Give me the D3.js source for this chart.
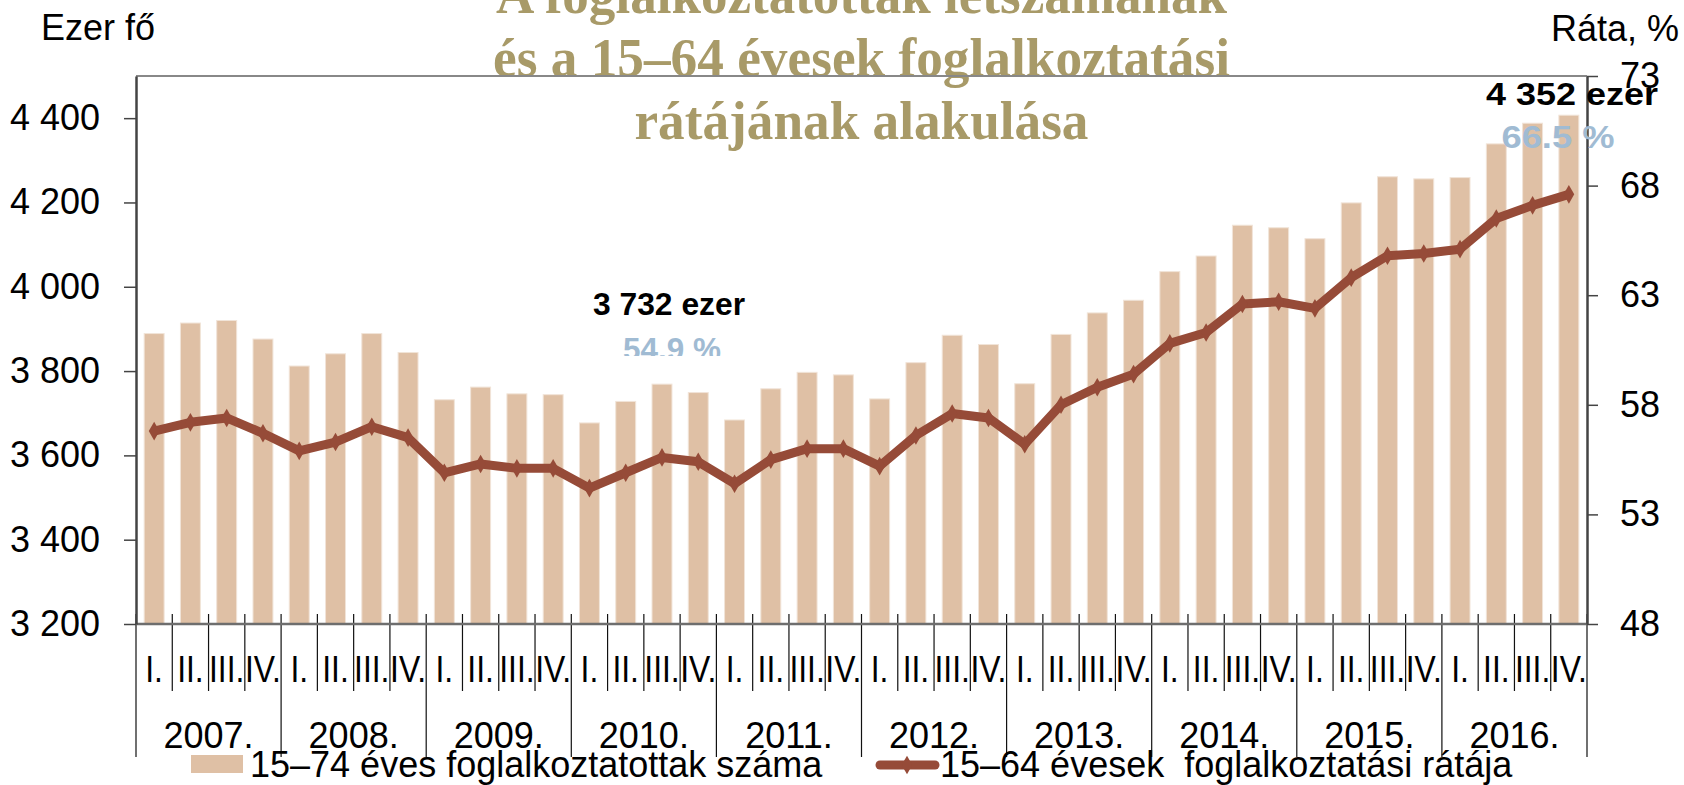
<!DOCTYPE html>
<html>
<head>
<meta charset="utf-8">
<script src="https://cdn.jsdelivr.net/npm/d3@7"></script>
<style>
    html, body { margin: 0; padding: 0; background: #fff; }
    svg { display: block; }
    text { font-family: "Liberation Sans", Arial, sans-serif; }
</style>
</head>
<body>
<div id="chart"></div>
<script>
// 40 negyedév, 2007 I. - 2016 IV.
const years = ["2007.", "2008.", "2009.", "2010.", "2011.", "2012.", "2013.", "2014.", "2015.", "2016."];
const quarters = ["I.", "II.", "III.", "IV."];

// 15–74 éves foglalkoztatottak száma, ezer fő
const employed = [
    3889, 3914, 3920, 3876,
    3812, 3841, 3889, 3844,
    3732, 3762, 3746, 3744,
    3677, 3728, 3769, 3749,
    3684, 3758, 3797, 3791,
    3734, 3820, 3885, 3863,
    3770, 3887, 3938, 3968,
    4036, 4073, 4146, 4140,
    4114, 4199, 4261, 4256,
    4259, 4339, 4388, 4407
];

// 15–64 évesek foglalkoztatási rátája, %
const rate = [
    56.8, 57.2, 57.4, 56.7,
    55.9, 56.3, 57.0, 56.5,
    54.9, 55.3, 55.1, 55.1,
    54.2, 54.9, 55.6, 55.4,
    54.4, 55.5, 56.0, 56.0,
    55.2, 56.6, 57.6, 57.4,
    56.2, 58.0, 58.8, 59.4,
    60.8, 61.3, 62.6, 62.7,
    62.4, 63.8, 64.8, 64.9,
    65.1, 66.5, 67.1, 67.6
];

const leftTicks = [3200, 3400, 3600, 3800, 4000, 4200, 4400];
const rightTicks = [48, 53, 58, 63, 68, 73];
const titleLines = ["A foglalkoztatottak létszámának", "és a 15–64 évesek foglalkoztatási", "rátájának alakulása"];
const legendLabels = ["15–74 éves foglalkoztatottak száma", "15–64 évesek  foglalkoztatási rátája"];

const width = 1684, height = 785;
const plot = { left: 136, right: 1587, top: 76, bottom: 624 };

const barColor = "#dfc0a5";
const lineColor = "#964b38";
const titleColor = "#a89a68";
const noteBlue = "#a0bbd3";

const hu = d3.formatLocale({ decimal: ",", thousands: " ", grouping: [3], currency: ["", " Ft"] });
const fmt = hu.format(",d");

const svg = d3.select("#chart").append("svg")
    .attr("width", width)
    .attr("height", height);

const idx = d3.range(employed.length);

const x = d3.scaleBand()
    .domain(idx)
    .range([plot.left, plot.right])
    .paddingInner(0.45)
    .paddingOuter(0.225);
const cx = i => x(i) + x.bandwidth() / 2;

const yL = d3.scaleLinear().domain([3200, 4500]).range([plot.bottom, plot.top]);
const yR = d3.scaleLinear().domain([48, 73]).range([plot.bottom, plot.top]);

// boundaries between quarters
const xb = d3.scaleLinear().domain([0, employed.length]).range([plot.left, plot.right]);

// title (behind the frame)
svg.append("g")
    .selectAll("text")
    .data(titleLines)
    .enter().append("text")
    .attr("x", (plot.left + plot.right) / 2)
    .attr("y", (d, i) => 13 + i * 63)
    .attr("text-anchor", "middle")
    .attr("textLength", (d, i) => [731, 737, 454][i])
    .attr("lengthAdjust", "spacingAndGlyphs")
    .style("font-family", "'Liberation Serif', 'Times New Roman', serif")
    .style("font-weight", "bold")
    .style("font-size", "54px")
    .attr("fill", titleColor)
    .text(d => d);

// bars
svg.append("g")
    .selectAll("rect")
    .data(employed)
    .enter().append("rect")
    .attr("x", (d, i) => x(i))
    .attr("y", d => yL(d))
    .attr("width", x.bandwidth())
    .attr("height", d => yL(3200) - yL(d))
    .attr("fill", barColor)
    .attr("stroke", "#f1e4d8")
    .attr("stroke-width", 1);

// frame top
svg.append("line")
    .attr("x1", plot.left).attr("x2", plot.right)
    .attr("y1", plot.top).attr("y2", plot.top)
    .attr("stroke", "#888").attr("stroke-width", 2);

// category axis: separators
svg.append("g")
    .selectAll("line")
    .data(d3.range(employed.length + 1))
    .enter().append("line")
    .attr("x1", d => xb(d)).attr("x2", d => xb(d))
    .attr("y1", plot.bottom - 10)
    .attr("y2", d => d % 4 === 0 ? 757 : 691)
    .attr("stroke", "#111")
    .attr("stroke-width", 1.2);

svg.append("line")
    .attr("x1", plot.left).attr("x2", plot.right)
    .attr("y1", plot.bottom).attr("y2", plot.bottom)
    .attr("stroke", "#6e6e6e").attr("stroke-width", 2.5);

const qLabels = svg.append("g")
    .selectAll("text")
    .data(idx)
    .enter().append("text")
    .attr("x", d => cx(d))
    .attr("y", 682)
    .attr("text-anchor", "middle")
    .style("font-size", "37px")
    .text(d => quarters[d % 4]);
qLabels.attr("textLength", function () { return this.getComputedTextLength() * 0.86; })
    .attr("lengthAdjust", "spacingAndGlyphs");

svg.append("g")
    .selectAll("text")
    .data(years)
    .enter().append("text")
    .attr("x", (d, i) => (xb(i * 4) + xb(i * 4 + 4)) / 2)
    .attr("y", 748)
    .attr("text-anchor", "middle")
    .style("font-size", "36px")
    .text(d => d);

// value axes
const gL = svg.append("g")
    .attr("transform", `translate(${plot.left},0)`)
    .call(d3.axisLeft(yL).tickValues(leftTicks).tickFormat(fmt).tickSize(12).tickSizeOuter(0).tickPadding(24));
const gR = svg.append("g")
    .attr("transform", `translate(${plot.right},0)`)
    .call(d3.axisRight(yR).tickValues(rightTicks).tickSize(11).tickSizeOuter(0).tickPadding(22));
[gL, gR].forEach(g => {
    g.select(".domain").attr("stroke", "#444").attr("stroke-width", 2.5);
    g.selectAll(".tick line").attr("stroke", "#444").attr("stroke-width", 1.5);
    g.selectAll(".tick text")
        .attr("fill", "#000")
        .style("font-family", "'Liberation Sans', Arial, sans-serif")
        .style("font-size", "36px");
});

svg.append("text")
    .attr("x", 41).attr("y", 40)
    .style("font-size", "36px")
    .text("Ezer fő");
svg.append("text")
    .attr("x", 1679).attr("y", 41)
    .attr("text-anchor", "end")
    .style("font-size", "36px")
    .text("Ráta, %");

// rate line
const line = d3.line()
    .x((d, i) => cx(i))
    .y(d => yR(d));

svg.append("path")
    .datum(rate)
    .attr("d", line)
    .attr("fill", "none")
    .attr("stroke", lineColor)
    .attr("stroke-width", 9)
    .attr("stroke-linejoin", "round");

const diamond = d3.symbol().type(d3.symbolDiamond).size(100);
svg.append("g")
    .selectAll("path")
    .data(rate)
    .enter().append("path")
    .attr("d", diamond)
    .attr("transform", (d, i) => `translate(${cx(i)},${yR(d)})`)
    .attr("fill", lineColor);

// notes
svg.append("clipPath").attr("id", "noteClip")
    .append("rect").attr("x", 0).attr("y", 0).attr("width", width).attr("height", 356);

const notes = [
    { t: "3 732 ezer", x: 669, y: 315, w: 152, c: "#000", clip: false },
    { t: "54.9 %", x: 672, y: 360, w: 98, c: noteBlue, clip: true },
    { t: "4 352 ezer", x: 1572, y: 105, w: 172, c: "#000", clip: false },
    { t: "66.5 %", x: 1558, y: 148, w: 113, c: noteBlue, clip: false }
];
svg.append("g")
    .selectAll("text")
    .data(notes)
    .enter().append("text")
    .attr("x", d => d.x)
    .attr("y", d => d.y)
    .attr("text-anchor", "middle")
    .attr("textLength", d => d.w)
    .attr("lengthAdjust", "spacingAndGlyphs")
    .attr("clip-path", d => d.clip ? "url(#noteClip)" : null)
    .style("font-size", "32px")
    .style("font-weight", "bold")
    .attr("fill", d => d.c)
    .text(d => d.t);

// legend
const legend = svg.append("g");
legend.append("rect")
    .attr("x", 191).attr("y", 755)
    .attr("width", 52).attr("height", 18)
    .attr("fill", barColor);
legend.append("text")
    .attr("x", 250).attr("y", 777)
    .style("font-size", "36px")
    .text(legendLabels[0]);
legend.append("line")
    .attr("x1", 880).attr("x2", 935)
    .attr("y1", 765).attr("y2", 765)
    .attr("stroke", lineColor)
    .attr("stroke-width", 9)
    .attr("stroke-linecap", "round");
legend.append("path")
    .attr("d", diamond)
    .attr("transform", "translate(907,765)")
    .attr("fill", lineColor);
legend.append("text")
    .attr("x", 940).attr("y", 777)
    .style("font-size", "36px")
    .style("white-space", "pre")
    .text(legendLabels[1]);
</script>
</body>
</html>
